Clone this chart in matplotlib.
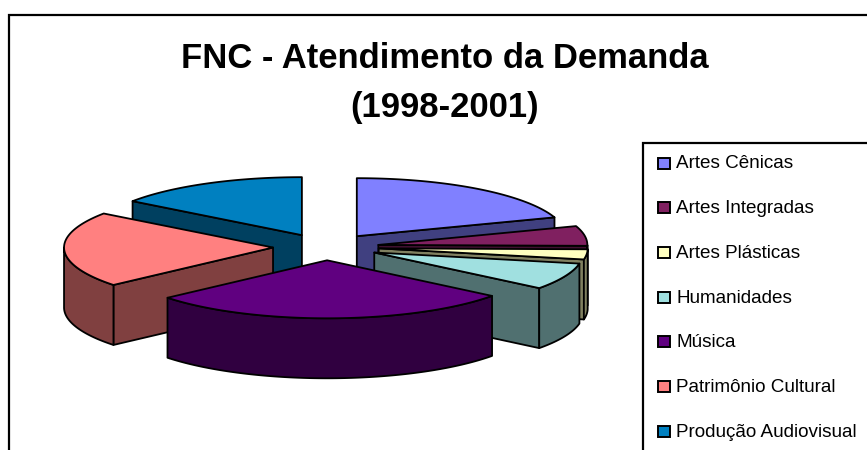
import numpy as np
import matplotlib
matplotlib.use("Agg")
import matplotlib.pyplot as plt
from matplotlib.patches import Polygon, Rectangle

plt.rcParams['font.family'] = ['Liberation Sans', 'DejaVu Sans']

labels = ["Artes Cênicas", "Artes Integradas", "Artes Plásticas", "Humanidades",
          "Música", "Patrimônio Cultural", "Produção Audiovisual"]
values = [19.7, 5.5, 2.8, 7.45, 28.25, 21.1, 15.0]
top_colors = ["#8080FF", "#802060", "#FFFFC0", "#A0E0E0", "#600080", "#FF8080", "#0080C0"]
side_colors = ["#404080", "#401030", "#808060", "#507070", "#300040", "#804040", "#004060"]

# pie geometry in pixels
cx, cy = 326, 247
rx, ry = 209, 58
depth = 60
explode_x, explode_y = 53, 13.3
edge = 1.3

fig = plt.figure(figsize=(8.67, 4.5), dpi=100)
ax = fig.add_axes([0, 0, 1, 1])
ax.set_xlim(0, 867)
ax.set_ylim(450, 0)
ax.axis("off")

# chart and legend frames, both run off the picture
ax.add_patch(Rectangle((9, 14.5), 900, 500, fc="white", ec="black", lw=1.6))
ax.add_patch(Rectangle((643, 142.5), 300, 400, fc="white", ec="black", lw=1.6))

ax.text(445, 59, "FNC - Atendimento da Demanda", ha="center", va="center",
        fontsize=24.9, fontweight="bold")
ax.text(445, 107, "(1998-2001)", ha="center", va="center", fontsize=24.9, fontweight="bold")

# angles clockwise from 12 o'clock
total = sum(values)
ends = np.cumsum(values) / total * 360
starts = ends - np.array(values) / total * 360


def rim(x0, y0, t1, t2):
    t = np.radians(np.linspace(t1, t2, max(int(t2 - t1), 2) + 1))
    return np.column_stack([x0 + rx * np.sin(t), y0 - ry * np.cos(t)])


def wall(x0, y0, t):
    p = rim(x0, y0, t, t + 1)[0]
    return [(x0, y0), tuple(p), (p[0], p[1] + depth), (x0, y0 + depth)]


def draw_slice(i):
    t1, t2 = starts[i], ends[i]
    mid = np.radians((t1 + t2) / 2)
    x0 = cx + explode_x * np.sin(mid)
    y0 = cy - explode_y * np.cos(mid)
    side = {"fc": side_colors[i], "ec": "black", "lw": edge, "joinstyle": "round"}
    if t1 > 180:
        ax.add_patch(Polygon(wall(x0, y0, t1), **side))
    if t2 < 180:
        ax.add_patch(Polygon(wall(x0, y0, t2), **side))
    a, b = max(t1, 90), min(t2, 270)
    if a < b:
        arc = rim(x0, y0, a, b)
        low = arc[::-1] + [0, depth]
        ax.add_patch(Polygon(np.vstack([arc, low]), **side))
    top = np.vstack([[(x0, y0)], rim(x0, y0, t1, t2)])
    ax.add_patch(Polygon(top, fc=top_colors[i], ec="black", lw=edge, joinstyle="round"))


# back to front
for i in [6, 5, 0, 1, 2, 3, 4]:
    draw_slice(i)

for i, name in enumerate(labels):
    y = 163 + i * 44.7
    ax.add_patch(Rectangle((657.5, y - 5.5), 12, 11, fc=top_colors[i], ec="black", lw=1.4))
    ax.text(676, y + 1, name, va="center", ha="left", fontsize=13.6, color="black")

fig.savefig("out.png", dpi=100)
